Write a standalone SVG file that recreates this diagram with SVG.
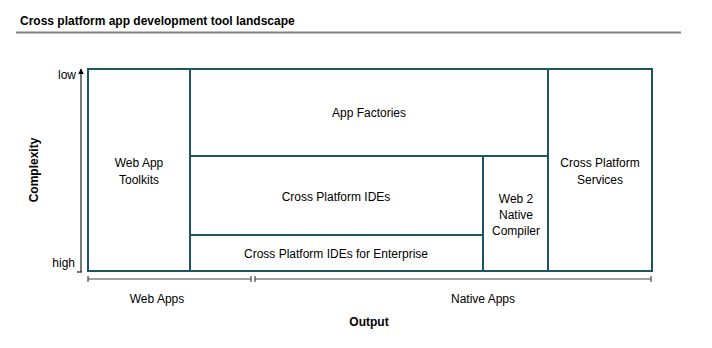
<svg xmlns="http://www.w3.org/2000/svg" width="712" height="348" viewBox="0 0 712 348">
<style>
.t{font-family:"Liberation Sans",Arial,sans-serif;font-size:12px;fill:#000;text-anchor:middle}
.b{font-weight:bold}
.box{fill:none;stroke:#1d5660;stroke-width:2}
.ax{stroke:#222;stroke-width:1.2;fill:none}
.xa{stroke:#444;stroke-width:1.2;fill:none}
</style>
<defs>
<marker id="ah" viewBox="0 0 10 10" refX="9" refY="5" markerWidth="5" markerHeight="6" orient="auto">
<path d="M0,0 L10,5 L0,10 z" fill="#000"/>
</marker>
</defs>
<rect width="712" height="348" fill="#fff"/>
<text x="20" y="25" class="t b" style="text-anchor:start;font-size:12px">Cross platform app development tool landscape</text>
<line x1="16" y1="32.5" x2="681" y2="32.5" stroke="#808080" stroke-width="2"/>

<g id="axes">
<line class="ax" x1="81" y1="272" x2="81" y2="69" marker-end="url(#ah)"/>
<line class="ax" x1="77" y1="272" x2="82" y2="272"/>
<text x="76" y="79" class="t" style="text-anchor:end">low</text>
<text x="75" y="267" class="t" style="text-anchor:end">high</text>
<text x="38" y="170" class="t b" transform="rotate(-90 38 170)">Complexity</text>
<path class="xa" d="M88,279 H251 M88,276 V282 M251,276 V282 M255,279 H651 M255,276 V282 M651,276 V282"/>
<text x="157" y="303" class="t">Web Apps</text>
<text x="483" y="303" class="t">Native Apps</text>
<text x="369" y="326" class="t b">Output</text>
</g>

<g id="frame"><rect class="box" x="88" y="69" width="564" height="202"/></g>
<g id="webAppToolkits">
<line class="box" x1="190" y1="69" x2="190" y2="271"/>
<text class="t" x="139" y="167">Web App</text>
<text class="t" x="139" y="184">Toolkits</text>
</g>
<g id="appFactories">
<line class="box" x1="190" y1="156" x2="548" y2="156"/>
<text class="t" x="369" y="117">App Factories</text>
</g>
<g id="crossPlatformIDEs">
<text class="t" x="336" y="201">Cross Platform IDEs</text>
</g>
<g id="crossPlatformIDEsEnterprise">
<line class="box" x1="190" y1="235" x2="483" y2="235"/>
<text class="t" x="336" y="258">Cross Platform IDEs for Enterprise</text>
</g>
<g id="web2NativeCompiler">
<line class="box" x1="483" y1="156" x2="483" y2="271"/>
<text class="t" x="516" y="203">Web 2</text>
<text class="t" x="516" y="219">Native</text>
<text class="t" x="516" y="235">Compiler</text>
</g>
<g id="crossPlatformServices">
<line class="box" x1="548" y1="69" x2="548" y2="271"/>
<text class="t" x="600" y="167">Cross Platform</text>
<text class="t" x="600" y="184">Services</text>
</g>
</svg>
